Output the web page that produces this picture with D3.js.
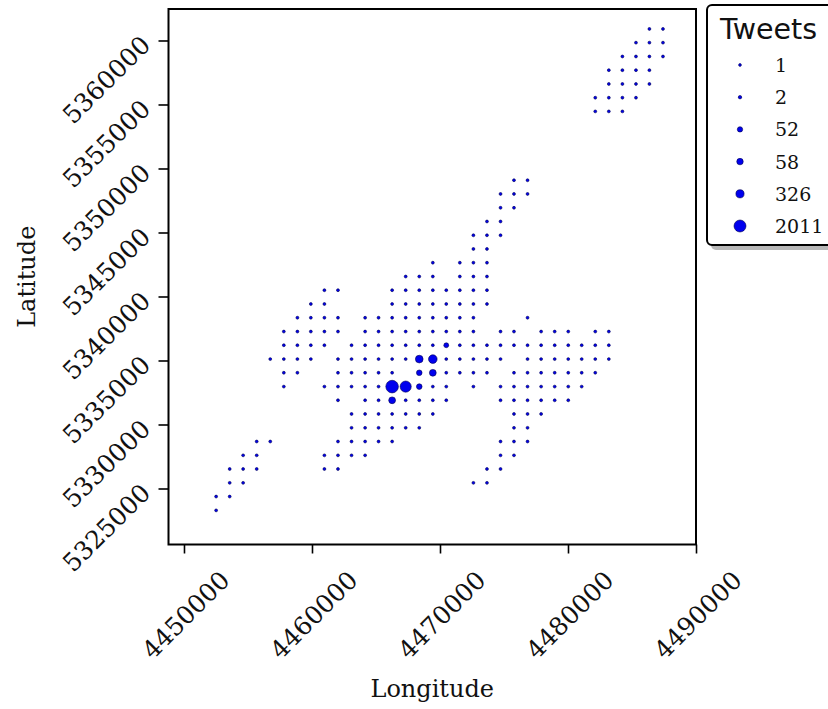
<!DOCTYPE html>
<html><head><meta charset="utf-8">
<script src="https://cdn.jsdelivr.net/npm/d3@7"></script>
<style>body{margin:0;background:#fff} svg{display:block}</style>
</head><body>
<svg id="chart" width="828" height="709"></svg>
<script>
const xTicks = [4450000, 4460000, 4470000, 4480000, 4490000];
const yTicks = [5325000, 5330000, 5335000, 5340000, 5345000, 5350000, 5355000, 5360000];
const legendValues = [1, 2, 52, 58, 326, 2011];
const xDomain = [4448790, 4490000];
const yDomain = [5320625, 5362460];
// [longitude, latitude, tweets]
const points = [
[4486360,5360900,1],[4487420,5360900,1],
[4485310,5359830,1],[4486360,5359830,1],[4487420,5359830,1],
[4484250,5358750,1],[4485310,5358750,1],[4486360,5358750,1],[4487420,5358750,1],
[4483190,5357680,1],[4484250,5357680,1],[4485310,5357680,1],[4486360,5357680,1],
[4483190,5356600,1],[4484250,5356600,1],[4485310,5356600,1],[4486360,5356600,1],
[4482130,5355530,1],[4483190,5355530,1],[4484250,5355530,1],[4485310,5355530,1],
[4482130,5354460,1],[4483190,5354460,1],[4484250,5354460,1],
[4475780,5349080,1],[4476840,5349080,1],
[4474730,5348010,1],[4475780,5348010,1],[4476840,5348010,1],
[4474730,5346930,1],[4475780,5346930,1],
[4473670,5345860,1],[4474730,5345860,1],
[4472610,5344780,1],[4473670,5344780,1],[4474730,5344780,1],
[4472610,5343710,1],[4473670,5343710,1],
[4469440,5342640,1],[4471550,5342640,1],[4472610,5342640,1],[4473670,5342640,1],
[4467320,5341560,1],[4468380,5341560,1],[4469440,5341560,1],[4471550,5341560,1],[4472610,5341560,1],[4473670,5341560,1],
[4460970,5340490,1],[4462030,5340490,1],[4466260,5340490,1],[4467320,5340490,1],[4468380,5340490,1],[4469440,5340490,1],[4470490,5340490,1],[4471550,5340490,1],[4472610,5340490,1],[4473670,5340490,1],
[4459910,5339410,1],[4460970,5339410,1],[4466260,5339410,1],[4467320,5339410,1],[4468380,5339410,1],[4469440,5339410,1],[4470490,5339410,1],[4471550,5339410,1],[4472610,5339410,1],[4473670,5339410,1],
[4458860,5338340,1],[4459910,5338340,1],[4460970,5338340,1],[4462030,5338340,1],[4464150,5338340,1],[4465200,5338340,1],[4466260,5338340,1],[4467320,5338340,1],[4468380,5338340,1],[4469440,5338340,1],[4470490,5338340,1],[4471550,5338340,1],[4472610,5338340,1],[4476840,5338340,1],
[4457800,5337260,1],[4458860,5337260,1],[4459910,5337260,1],[4460970,5337260,1],[4462030,5337260,1],[4464150,5337260,1],[4465200,5337260,1],[4466260,5337260,1],[4467320,5337260,1],[4468380,5337260,1],[4469440,5337260,1],[4470490,5337260,1],[4471550,5337260,1],[4472610,5337260,1],[4474730,5337260,1],[4475780,5337260,1],[4477900,5337260,1],[4478960,5337260,1],[4480020,5337260,1],[4482130,5337260,1],[4483190,5337260,1],
[4457800,5336190,1],[4458860,5336190,1],[4459910,5336190,1],[4460970,5336190,1],[4463090,5336190,1],[4464150,5336190,1],[4465200,5336190,1],[4466260,5336190,1],[4467320,5336190,1],[4468380,5336190,1],[4469440,5336190,1],[4470490,5336190,34],[4471550,5336190,1],[4472610,5336190,1],[4473670,5336190,1],[4474730,5336190,1],[4475780,5336190,1],[4476840,5336190,1],[4477900,5336190,1],[4478960,5336190,1],[4480020,5336190,1],[4481070,5336190,1],[4482130,5336190,1],[4483190,5336190,1],
[4456740,5335110,1],[4457800,5335110,1],[4458860,5335110,1],[4459910,5335110,1],[4462030,5335110,1],[4463090,5335110,1],[4464150,5335110,1],[4465200,5335110,1],[4466260,5335110,1],[4467320,5335110,1],[4468380,5335110,192],[4469440,5335110,326],[4470490,5335110,1],[4471550,5335110,1],[4472610,5335110,1],[4473670,5335110,1],[4474730,5335110,1],[4476840,5335110,1],[4477900,5335110,1],[4478960,5335110,1],[4480020,5335110,1],[4481070,5335110,1],[4482130,5335110,1],[4483190,5335110,1],
[4457800,5334040,1],[4458860,5334040,1],[4462030,5334040,1],[4463090,5334040,1],[4464150,5334040,1],[4465200,5334040,1],[4466260,5334040,1],[4468380,5334040,52],[4469440,5334040,58],[4470490,5334040,1],[4471550,5334040,1],[4472610,5334040,1],[4473670,5334040,1],[4475780,5334040,1],[4476840,5334040,1],[4477900,5334040,1],[4478960,5334040,1],[4480020,5334040,1],[4481070,5334040,1],[4482130,5334040,1],
[4457800,5332960,1],[4460970,5332960,1],[4462030,5332960,1],[4463090,5332960,1],[4464150,5332960,1],[4465200,5332960,1],[4466260,5332960,2011],[4467320,5332960,1390],[4468380,5332960,52],[4469440,5332960,1],[4470490,5332960,1],[4472610,5332960,1],[4474730,5332960,1],[4475780,5332960,1],[4476840,5332960,1],[4477900,5332960,1],[4478960,5332960,1],[4480020,5332960,1],[4481070,5332960,1],
[4462030,5331890,1],[4464150,5331890,1],[4465200,5331890,1],[4466260,5331890,58],[4467320,5331890,1],[4468380,5331890,1],[4469440,5331890,1],[4470490,5331890,1],[4474730,5331890,1],[4475780,5331890,1],[4476840,5331890,1],[4477900,5331890,1],[4478960,5331890,1],[4480020,5331890,1],
[4463090,5330820,1],[4464150,5330820,1],[4465200,5330820,1],[4466260,5330820,1],[4467320,5330820,1],[4468380,5330820,1],[4469440,5330820,1],[4475780,5330820,1],[4476840,5330820,1],[4477900,5330820,1],
[4463090,5329740,1],[4464150,5329740,1],[4465200,5329740,1],[4466260,5329740,1],[4467320,5329740,1],[4468380,5329740,1],[4475780,5329740,1],[4476840,5329740,1],
[4455680,5328670,1],[4456740,5328670,1],[4462030,5328670,1],[4463090,5328670,1],[4464150,5328670,1],[4465200,5328670,1],[4466260,5328670,1],[4474730,5328670,1],[4475780,5328670,1],[4476840,5328670,1],
[4454620,5327590,1],[4455680,5327590,1],[4460970,5327590,1],[4462030,5327590,1],[4463090,5327590,1],[4464150,5327590,1],[4474730,5327590,1],[4475780,5327590,1],
[4453570,5326520,1],[4454620,5326520,1],[4455680,5326520,1],[4460970,5326520,1],[4462030,5326520,1],[4473670,5326520,1],[4474730,5326520,1],
[4453570,5325440,1],[4454620,5325440,1],[4472610,5325440,1],[4473670,5325440,1],
[4452510,5324370,1],[4453570,5324370,1],
[4452510,5323290,1]
];

const svg = d3.select("#chart");
const W = 828, H = 709;
svg.append("rect").attr("width", W).attr("height", H).attr("fill", "#fff");

const plot = {left: 168.5, right: 696, top: 9, bottom: 544.5};
const x = d3.scaleLinear().domain(xDomain).range([plot.left, plot.right]);
const y = d3.scaleLinear().domain(yDomain).range([plot.bottom, plot.top]);
const r = d3.scaleLinear().domain(legendValues).range([1.45, 1.8, 2.8, 3.4, 4.3, 6.3]).clamp(true);

const serif = "'DejaVu Serif', serif";

// points
svg.append("g").selectAll("circle").data(points).join("circle")
  .attr("cx", d => x(d[0])).attr("cy", d => y(d[1])).attr("r", d => r(d[2]))
  .attr("fill", "#0000ee").attr("stroke", "#000050").attr("stroke-width", 0.6);

// axes
const xAxis = d3.axisBottom(x).tickValues(xTicks).tickSize(9).tickFormat("");
const yAxis = d3.axisLeft(y).tickValues(yTicks).tickSize(10).tickFormat("");
const gx = svg.append("g").attr("transform", `translate(0,${plot.bottom})`).call(xAxis);
const gy = svg.append("g").attr("transform", `translate(${plot.left},0)`).call(yAxis);
[gx, gy].forEach(g => { g.select(".domain").remove(); g.selectAll(".tick line").attr("stroke", "#000").attr("stroke-width", 1.6); });

// frame
svg.append("rect").attr("x", plot.left).attr("y", plot.top)
  .attr("width", plot.right - plot.left).attr("height", plot.bottom - plot.top)
  .attr("fill", "none").attr("stroke", "#000").attr("stroke-width", 2);

// tick labels
svg.append("g").selectAll("text").data(xTicks).join("text")
  .attr("transform", d => `translate(${x(d) + 2},615) rotate(-45)`)
  .attr("text-anchor", "middle").attr("dominant-baseline", "central")
  .attr("font-family", serif).attr("font-size", 25).attr("fill", "#111")
  .text(d => d3.format("d")(d));
svg.append("g").selectAll("text").data(yTicks).join("text")
  .attr("transform", d => `translate(146,${y(d)}) rotate(-45)`)
  .attr("text-anchor", "end").attr("dominant-baseline", "central")
  .attr("font-family", serif).attr("font-size", 25).attr("fill", "#111")
  .text(d => d3.format("d")(d));

// axis titles
svg.append("text").attr("x", (plot.left + plot.right) / 2).attr("y", 697)
  .attr("text-anchor", "middle").attr("font-family", serif).attr("font-size", 24).attr("fill", "#111")
  .text("Longitude");
svg.append("text").attr("transform", `translate(35,${(plot.top + plot.bottom) / 2}) rotate(-90)`)
  .attr("text-anchor", "middle").attr("font-family", serif).attr("font-size", 24).attr("fill", "#111")
  .text("Latitude");

// legend
const lg = svg.append("g");
const box = {x: 707, y: 5, w: 140, h: 240};
lg.append("rect").attr("x", box.x + 4).attr("y", box.y + 5).attr("width", box.w).attr("height", box.h)
  .attr("rx", 5).attr("fill", "#888").attr("opacity", 0.6);
lg.append("rect").attr("x", box.x).attr("y", box.y).attr("width", box.w).attr("height", box.h)
  .attr("rx", 5).attr("fill", "#fff").attr("stroke", "#000").attr("stroke-width", 2);
lg.append("text").attr("x", 720).attr("y", 39).attr("font-family", "'DejaVu Sans', sans-serif")
  .attr("font-size", 28.5).attr("fill", "#111").text("Tweets");
const items = lg.selectAll("g.item").data(legendValues).join("g").attr("class", "item")
  .attr("transform", (d, i) => `translate(0,${65 + i * 32.2})`);
items.append("circle").attr("cx", 740).attr("cy", 0).attr("r", d => r(d) * 0.95)
  .attr("fill", "#0000ee").attr("stroke", "#000050").attr("stroke-width", 0.6);
items.append("text").attr("x", 775).attr("y", 0).attr("dominant-baseline", "central")
  .attr("font-family", serif).attr("font-size", 19).attr("fill", "#111").text(d => d);
</script>
</body></html>
